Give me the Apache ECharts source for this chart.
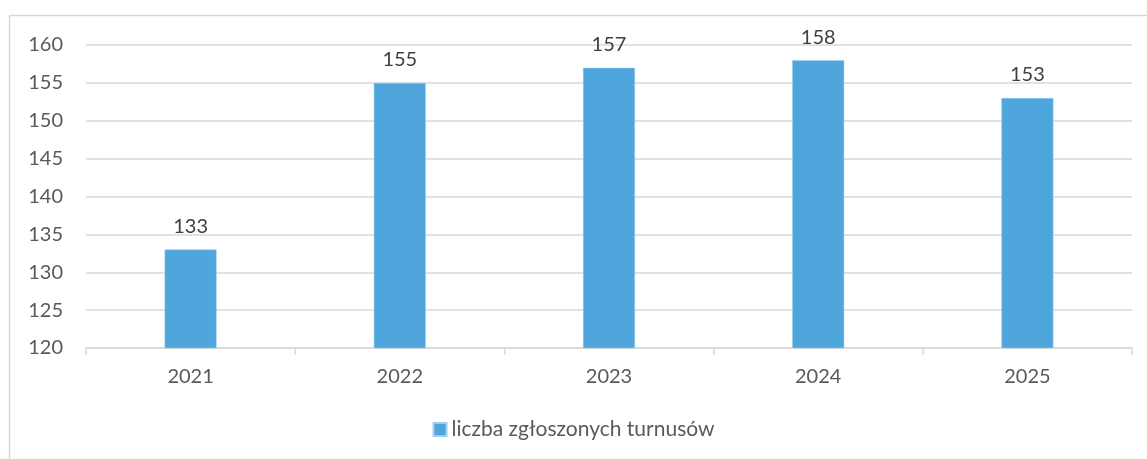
<!DOCTYPE html>
<html lang="pl">
<head>
    <meta charset="UTF-8">
    <title>liczba zgłoszonych turnusów</title>
    <script src="https://cdn.jsdelivr.net/npm/echarts@6/dist/echarts.min.js"></script>
    <style>
        html, body { margin: 0; padding: 0; background: #fff; }
        #main { width: 1147px; height: 459px; }
    </style>
</head>
<body>
    <div id="main"></div>
    <script>
        // dane
        var years = ['2021', '2022', '2023', '2024', '2025'];
        var turnusy = [133, 155, 157, 158, 153];
        var seriesName = 'liczba zgłoszonych turnusów';
        var yMin = 120, yMax = 160, yStep = 5;

        var font = 'Lato, "Open Sans", sans-serif';
        var myChart = echarts.init(document.getElementById('main'));

        var option = {
            animation: false,
            backgroundColor: '#fff',
            textStyle: { fontFamily: font },
            // ramka wykresu (widoczna tylko lewa i górna krawędź)
            graphic: [{
                type: 'rect',
                shape: { x: 9.5, y: 15.5, width: 1300, height: 600 },
                style: { fill: 'none', stroke: '#d9d9d9', lineWidth: 1.5 },
                silent: true
            }],
            grid: { left: 86, right: 15, top: 45, bottom: 111 },
            legend: {
                bottom: 14,
                left: 'center',
                icon: 'rect',
                itemWidth: 13,
                itemHeight: 13,
                itemGap: 6,
                textStyle: { fontFamily: font, fontSize: 21, color: '#595959' },
                data: [seriesName]
            },
            xAxis: {
                type: 'category',
                data: years,
                axisLine: { lineStyle: { color: '#d9d9d9', width: 1.5 } },
                axisTick: { show: true, length: 7, lineStyle: { color: '#d9d9d9', width: 1.5 } },
                axisLabel: { color: '#595959', fontSize: 20, margin: 19, fontFamily: font }
            },
            yAxis: {
                type: 'value',
                min: yMin,
                max: yMax,
                interval: yStep,
                axisLine: { show: false },
                axisTick: { show: false },
                splitLine: { lineStyle: { color: '#d9d9d9', width: 1.5 } },
                axisLabel: { color: '#595959', fontSize: 20, margin: 23, fontFamily: font }
            },
            series: [{
                name: seriesName,
                type: 'bar',
                data: turnusy,
                barWidth: 52,
                itemStyle: { color: '#4ea6dc', borderColor: '#9fd0ee', borderWidth: 0.5 },
                label: {
                    show: true,
                    position: 'top',
                    distance: 13,
                    color: '#404040',
                    fontSize: 20,
                    fontFamily: font
                }
            }]
        };

        myChart.setOption(option);
    </script>
</body>
</html>
